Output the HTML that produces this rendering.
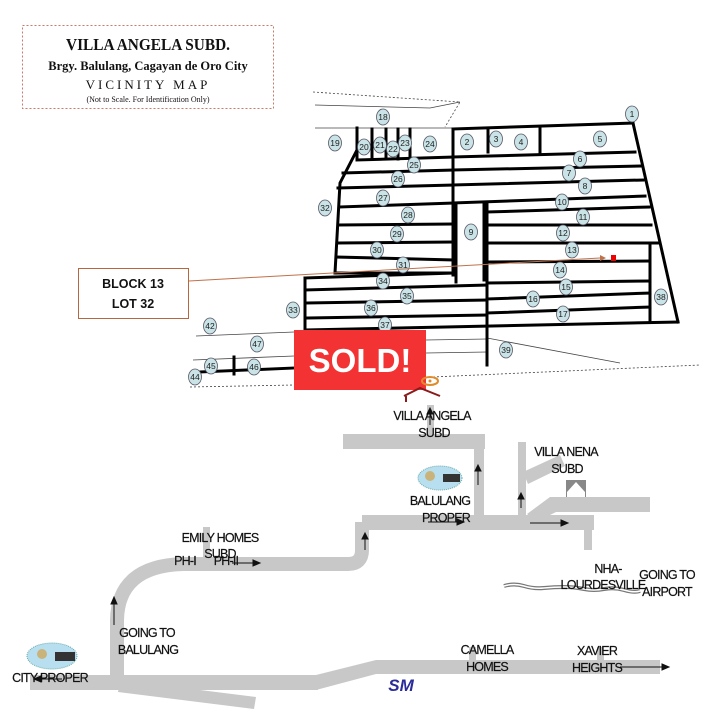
<!DOCTYPE html>
<html><head><meta charset="utf-8"><style>
html,body{margin:0;padding:0;background:#fff;}
svg{display:block;}
.t{font-family:"Liberation Sans",sans-serif;font-size:12.5px;fill:#111;text-anchor:middle;letter-spacing:-0.8px;stroke:#111;stroke-width:0.2px;}
.n{font-family:"Liberation Sans",sans-serif;font-size:8.5px;fill:#222;text-anchor:middle;}
</style></head><body>
<svg width="720" height="720" viewBox="0 0 720 720" xmlns="http://www.w3.org/2000/svg">
<rect width="720" height="720" fill="#fff"/>
<rect x="22.5" y="25.5" width="251" height="83" fill="#fff" stroke="#c97a6a" stroke-dasharray="2,2"/>
<g font-family="Liberation Serif,serif" text-anchor="middle" fill="#111">
<text x="148" y="50" font-size="17" font-weight="bold" textLength="164" lengthAdjust="spacingAndGlyphs">VILLA ANGELA SUBD.</text>
<text x="148" y="70" font-size="12.5" font-weight="bold">Brgy. Balulang, Cagayan de Oro City</text>
<text x="148" y="89" font-size="13" letter-spacing="3">VICINITY MAP</text>
<text x="148" y="102" font-size="8">(Not to Scale. For Identification Only)</text>
</g>

<g fill="none" stroke="#444" stroke-width="0.8">
<polyline points="313,92 460,102 445,127" stroke-dasharray="2,2"/>
<polyline points="315,105 430,108 460,102"/>
<line x1="315" y1="128" x2="453" y2="128"/>
<line x1="196" y1="336" x2="294" y2="332"/>
<line x1="193" y1="360" x2="294" y2="356"/>
<line x1="426" y1="340" x2="487" y2="339"/>
<line x1="426" y1="353" x2="487" y2="352"/>
<line x1="487" y1="338" x2="620" y2="363"/>
<line x1="190" y1="387" x2="294" y2="385" stroke-dasharray="2,2"/>
<line x1="433" y1="377" x2="700" y2="365" stroke-dasharray="2,2"/>
</g>

<g fill="none" stroke="#000" stroke-width="3" stroke-linecap="square">
<line x1="453" y1="129" x2="633" y2="123"/>
<line x1="633" y1="123" x2="678" y2="322"/>
<polyline points="357,128 357,160 453,157"/>
<line x1="372" y1="129" x2="372" y2="159"/>
<line x1="386" y1="129" x2="386" y2="159"/>
<line x1="398" y1="129" x2="398" y2="159"/>
<line x1="410" y1="129" x2="410" y2="159"/>
<line x1="453" y1="129" x2="453" y2="275"/>
<line x1="488" y1="129" x2="488" y2="152"/>
<line x1="540" y1="129" x2="540" y2="152"/>
<line x1="453" y1="157" x2="635" y2="152"/>
<polyline points="357,150 340,183 335,273"/>
<line x1="343" y1="173" x2="453" y2="170"/>
<line x1="453" y1="170" x2="640" y2="166"/>
<line x1="338" y1="188" x2="453" y2="185"/>
<line x1="453" y1="185" x2="643" y2="180"/>
<line x1="340" y1="207" x2="453" y2="203"/>
<line x1="453" y1="203" x2="645" y2="196"/>
<line x1="338" y1="225" x2="453" y2="224"/>
<line x1="338" y1="243" x2="453" y2="242"/>
<line x1="336" y1="257" x2="453" y2="260"/>
<line x1="335" y1="273" x2="453" y2="273"/>
<line x1="305" y1="278" x2="453" y2="273"/>
<line x1="456" y1="203" x2="456" y2="282"/>
<line x1="484" y1="203" x2="484" y2="280"/>
<line x1="487" y1="203" x2="487" y2="365"/>
<line x1="487" y1="212" x2="649" y2="207"/>
<line x1="487" y1="225" x2="651" y2="225"/>
<line x1="487" y1="243" x2="658" y2="243"/>
<line x1="487" y1="262" x2="650" y2="261"/>
<line x1="305" y1="290" x2="487" y2="285"/>
<line x1="487" y1="283" x2="650" y2="281"/>
<line x1="307" y1="303" x2="487" y2="300"/>
<line x1="487" y1="299" x2="650" y2="293"/>
<line x1="308" y1="318" x2="487" y2="315"/>
<line x1="487" y1="313" x2="650" y2="307"/>
<line x1="305" y1="330" x2="678" y2="322"/>
<line x1="305" y1="278" x2="305" y2="330"/>
<line x1="650" y1="243" x2="650" y2="322"/>
<line x1="200" y1="372" x2="294" y2="368"/>
<line x1="234" y1="357" x2="234" y2="374"/>
</g>

<g fill="#c9e3e6" stroke="#556" stroke-width="0.8">
<ellipse cx="632" cy="114" rx="6.5" ry="8"/><ellipse cx="383" cy="117" rx="6.5" ry="8"/>
<ellipse cx="335" cy="143" rx="6.5" ry="8"/><ellipse cx="364" cy="147" rx="6.5" ry="8"/>
<ellipse cx="380" cy="145" rx="6.5" ry="8"/><ellipse cx="393" cy="149" rx="6.5" ry="8"/>
<ellipse cx="405" cy="143" rx="6.5" ry="8"/><ellipse cx="430" cy="144" rx="6.5" ry="8"/>
<ellipse cx="467" cy="142" rx="6.5" ry="8"/><ellipse cx="496" cy="139" rx="6.5" ry="8"/>
<ellipse cx="521" cy="142" rx="6.5" ry="8"/><ellipse cx="600" cy="139" rx="6.5" ry="8"/>
<ellipse cx="580" cy="159" rx="6.5" ry="8"/><ellipse cx="414" cy="165" rx="6.5" ry="8"/>
<ellipse cx="569" cy="173" rx="6.5" ry="8"/><ellipse cx="398" cy="179" rx="6.5" ry="8"/>
<ellipse cx="585" cy="186" rx="6.5" ry="8"/><ellipse cx="383" cy="198" rx="6.5" ry="8"/>
<ellipse cx="562" cy="202" rx="6.5" ry="8"/><ellipse cx="325" cy="208" rx="6.5" ry="8"/>
<ellipse cx="408" cy="215" rx="6.5" ry="8"/><ellipse cx="583" cy="217" rx="6.5" ry="8"/>
<ellipse cx="471" cy="232" rx="6.5" ry="8"/><ellipse cx="397" cy="234" rx="6.5" ry="8"/>
<ellipse cx="563" cy="233" rx="6.5" ry="8"/><ellipse cx="377" cy="250" rx="6.5" ry="8"/>
<ellipse cx="572" cy="250" rx="6.5" ry="8"/><ellipse cx="403" cy="265" rx="6.5" ry="8"/>
<ellipse cx="560" cy="270" rx="6.5" ry="8"/><ellipse cx="383" cy="281" rx="6.5" ry="8"/>
<ellipse cx="566" cy="287" rx="6.5" ry="8"/><ellipse cx="407" cy="296" rx="6.5" ry="8"/>
<ellipse cx="533" cy="299" rx="6.5" ry="8"/><ellipse cx="661" cy="297" rx="6.5" ry="8"/>
<ellipse cx="293" cy="310" rx="6.5" ry="8"/><ellipse cx="371" cy="308" rx="6.5" ry="8"/>
<ellipse cx="563" cy="314" rx="6.5" ry="8"/><ellipse cx="385" cy="325" rx="6.5" ry="8"/>
<ellipse cx="506" cy="350" rx="6.5" ry="8"/><ellipse cx="210" cy="326" rx="6.5" ry="8"/>
<ellipse cx="257" cy="344" rx="6.5" ry="8"/><ellipse cx="211" cy="366" rx="6.5" ry="8"/>
<ellipse cx="254" cy="367" rx="6.5" ry="8"/><ellipse cx="195" cy="377" rx="6.5" ry="8"/>
</g>
<g class="n">
<text x="632" y="117">1</text><text x="383" y="120">18</text><text x="335" y="146">19</text>
<text x="364" y="150">20</text><text x="380" y="148">21</text><text x="393" y="152">22</text>
<text x="405" y="146">23</text><text x="430" y="147">24</text><text x="467" y="145">2</text>
<text x="496" y="142">3</text><text x="521" y="145">4</text><text x="600" y="142">5</text>
<text x="580" y="162">6</text><text x="414" y="168">25</text><text x="569" y="176">7</text>
<text x="398" y="182">26</text><text x="585" y="189">8</text><text x="383" y="201">27</text>
<text x="562" y="205">10</text><text x="325" y="211">32</text><text x="408" y="218">28</text>
<text x="583" y="220">11</text><text x="471" y="235">9</text><text x="397" y="237">29</text>
<text x="563" y="236">12</text><text x="377" y="253">30</text><text x="572" y="253">13</text>
<text x="403" y="268">31</text><text x="560" y="273">14</text><text x="383" y="284">34</text>
<text x="566" y="290">15</text><text x="407" y="299">35</text><text x="533" y="302">16</text>
<text x="661" y="300">38</text><text x="293" y="313">33</text><text x="371" y="311">36</text>
<text x="563" y="317">17</text><text x="385" y="328">37</text><text x="506" y="353">39</text>
<text x="210" y="329">42</text><text x="257" y="347">47</text><text x="211" y="369">45</text>
<text x="254" y="370">46</text><text x="195" y="380">44</text>
</g>

<rect x="78.5" y="268.5" width="110" height="50" fill="#fff" stroke="#b5673f"/>
<g font-family="Liberation Sans,sans-serif" font-weight="bold" font-size="12.5" text-anchor="middle" fill="#111">
<text x="133" y="288">BLOCK 13</text><text x="133" y="308">LOT 32</text></g>
<line x1="189" y1="281" x2="600" y2="258" stroke="#c0714a" stroke-width="1"/>
<polygon points="600,255 606,258 600,261" fill="#c0714a"/>
<rect x="611" y="255" width="5" height="6" fill="#e00"/>

<rect x="294" y="330" width="132" height="60" fill="#f33333"/>
<text x="360" y="372" font-family="Liberation Sans,sans-serif" font-weight="bold" font-size="33" fill="#fff" text-anchor="middle">SOLD!</text>

<ellipse cx="430" cy="381" rx="8" ry="4" fill="none" stroke="#e08a2a" stroke-width="2"/>
<circle cx="430" cy="381" r="1.5" fill="#e08a2a"/>
<polyline points="404,396 420,388 440,396" fill="none" stroke="#8b1a1a" stroke-width="2"/>
<line x1="406" y1="396" x2="406" y2="402" stroke="#8b1a1a" stroke-width="2"/>

<g fill="#c8c8c8">
<rect x="343" y="434" width="142" height="15"/>
<rect x="474" y="440" width="10" height="82"/>
<rect x="427" y="405" width="7" height="30"/>
<rect x="518" y="442" width="8" height="80"/>
<polygon points="523,472 560,455 565,466 528,484"/>
<polygon points="527,514 550,497 650,497 650,512 556,512 536,522"/>
<rect x="362" y="515" width="232" height="15"/>
<rect x="584" y="520" width="8" height="30"/>
<rect x="203" y="527" width="7" height="30"/>
<rect x="469" y="647" width="7" height="15"/>
<rect x="597" y="647" width="7" height="15"/>
<rect x="30" y="675" width="288" height="15"/>
<polygon points="316,675 376,660 660,660 660,674 376,674 316,690"/>
<polygon points="120,680 256,697 254,709 118,692"/>
</g>
<path d="M362 522 L362 550 Q362 564 348 564 L183 564 Q118 566 117 620 L117 682" fill="none" stroke="#c8c8c8" stroke-width="14"/>

<path d="M504 586 q10 -3 20 0 t20 2 t20 -1 t20 2 t20 0 t20 1 t16 1" fill="none" stroke="#777" stroke-width="4"/>
<path d="M504 586 q10 -3 20 0 t20 2 t20 -1 t20 2 t20 0 t20 1 t16 1" fill="none" stroke="#fff" stroke-width="1.5"/>

<ellipse cx="440" cy="478" rx="22" ry="12" fill="#b8dff0" stroke="#6aa" stroke-dasharray="1,1"/>
<rect x="443" y="474" width="17" height="8" fill="#333"/><circle cx="430" cy="476" r="5" fill="#c9b37a"/>
<ellipse cx="52" cy="656" rx="25" ry="13" fill="#b8dff0" stroke="#6aa" stroke-dasharray="1,1"/>
<rect x="55" y="652" width="20" height="9" fill="#333"/><circle cx="42" cy="654" r="5" fill="#c9b37a"/>
<rect x="566" y="480" width="20" height="17" fill="#888"/>
<polygon points="567,492 576,482 585,492 585,497 567,497" fill="#fff"/>
<text x="401" y="691" font-family="Liberation Sans,sans-serif" font-weight="bold" font-style="italic" font-size="17" fill="#2b2b9a" text-anchor="middle">SM</text>

<g stroke="#111" stroke-width="1" fill="#111">
<line x1="114" y1="625" x2="114" y2="603"/><polygon points="111,604 114,597 117,604"/>
<line x1="365" y1="550" x2="365" y2="538"/><polygon points="362,539 365,533 368,539"/>
<line x1="478" y1="485" x2="478" y2="470"/><polygon points="475,471 478,465 481,471"/>
<line x1="521" y1="508" x2="521" y2="498"/><polygon points="518,499 521,493 524,499"/>
<line x1="430" y1="425" x2="430" y2="413"/><polygon points="427,414 430,408 433,414"/>
<line x1="232" y1="563" x2="254" y2="563"/><polygon points="253,560 260,563 253,566"/>
<line x1="428" y1="522" x2="458" y2="522"/><polygon points="457,519 464,522 457,525"/>
<line x1="530" y1="523" x2="562" y2="523"/><polygon points="561,520 568,523 561,526"/>
<line x1="620" y1="667" x2="663" y2="667"/><polygon points="662,664 669,667 662,670"/>
<line x1="40" y1="679" x2="62" y2="679"/><polygon points="41,676 34,679 41,682"/>
</g>

<g class="t">
<text x="432" y="420">VILLA ANGELA</text><text x="434" y="437">SUBD</text>
<text x="566" y="456">VILLA NENA</text><text x="567" y="473">SUBD</text>
<text x="440" y="505">BALULANG</text><text x="446" y="522">PROPER</text>
<text x="220" y="542">EMILY HOMES</text><text x="220" y="558">SUBD</text>
<text x="185" y="565">PH-I</text><text x="226" y="565">PH-II</text>
<text x="608" y="573">NHA-</text><text x="603" y="589">LOURDESVILLE</text>
<text x="667" y="579">GOING TO</text><text x="667" y="596">AIRPORT</text>
<text x="147" y="637">GOING TO</text><text x="148" y="654">BALULANG</text>
<text x="50" y="682">CITY PROPER</text>
<text x="487" y="654">CAMELLA</text><text x="487" y="671">HOMES</text>
<text x="597" y="655">XAVIER</text><text x="597" y="672">HEIGHTS</text>
</g>
</svg>
</body></html>
